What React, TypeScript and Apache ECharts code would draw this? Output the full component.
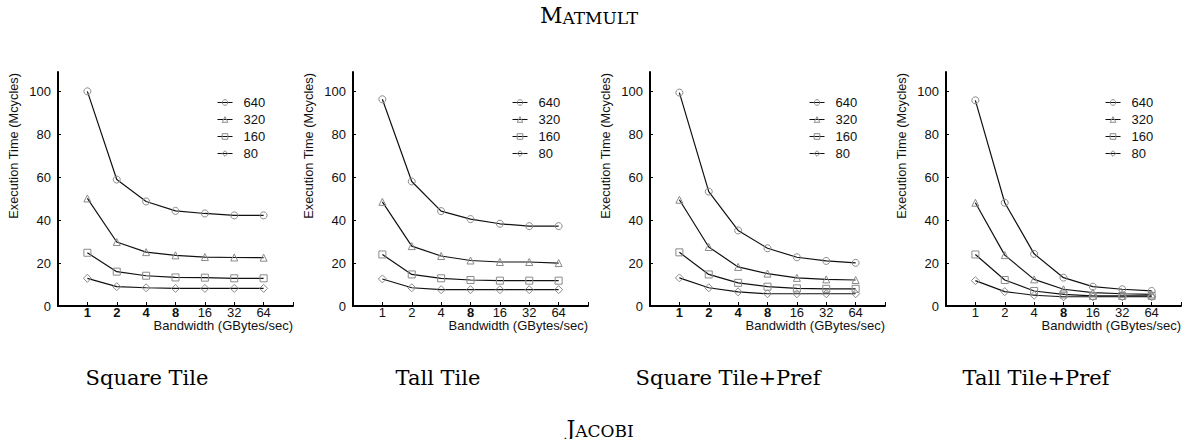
import React, { useEffect, useRef } from 'react';
import * as echarts from 'echarts';

const BANDWIDTH = [1, 2, 4, 8, 16, 32, 64];
const SIZES = ['640', '320', '160', '80'];
const Y_TICKS = [0, 20, 40, 60, 80, 100];
const PANELS = ['Square Tile', 'Tall Tile', 'Square Tile+Pref', 'Tall Tile+Pref'];
const BOLD_X_LABELS = [['1', '2', '4', '8'], ['8'], ['1', '2', '4', '8'], ['8']];

// Square Tile
const sq640 = [100, 58.9, 48.7, 44.3, 43.1, 42.2, 42.2];
const sq320 = [50.1, 29.8, 25.1, 23.6, 22.8, 22.6, 22.5];
const sq160 = [24.8, 16.0, 14.1, 13.3, 13.2, 12.9, 12.9];
const sq80 = [12.9, 9.0, 8.5, 8.2, 8.2, 8.2, 8.2];
// Tall Tile
const tall640 = [96.3, 58.0, 44.2, 40.5, 38.3, 37.2, 37.2];
const tall320 = [48.5, 27.9, 23.3, 21.2, 20.5, 20.5, 20.0];
const tall160 = [24.0, 14.7, 12.9, 12.1, 11.8, 11.8, 11.8];
const tall80 = [12.6, 8.5, 7.6, 7.6, 7.6, 7.6, 7.6];
// Square Tile+Pref
const sqp640 = [99.4, 53.3, 35.2, 26.9, 22.7, 21.0, 20.1];
const sqp320 = [49.5, 27.5, 18.2, 15.1, 13.1, 12.4, 12.1];
const sqp160 = [25.0, 14.7, 10.8, 9.0, 8.2, 8.0, 8.0];
const sqp80 = [13.1, 8.5, 6.6, 5.7, 5.7, 5.7, 5.7];
// Tall Tile+Pref
const tallp640 = [95.8, 48.1, 24.3, 13.2, 9.0, 7.8, 7.0];
const tallp320 = [48.1, 23.7, 12.4, 7.8, 6.2, 5.7, 5.4];
const tallp160 = [24.0, 12.1, 7.0, 5.4, 4.7, 4.7, 4.7];
const tallp80 = [11.8, 6.7, 5.0, 4.3, 4.3, 4.3, 4.3];

const PANEL_DATA = [
  [sq640, sq320, sq160, sq80],
  [tall640, tall320, tall160, tall80],
  [sqp640, sqp320, sqp160, sqp80],
  [tallp640, tallp320, tallp160, tallp80],
];

const SYMBOLS = ['circle', 'triangle', 'rect', 'diamond'];
const SYMBOL_SIZES = [7, 7, 7, 8];
const GRID_LEFT = [58, 353, 650, 946];
const GRID_TOP = 72;
const GRID_W = 235;
const GRID_H = 234;
const SANS = 'Liberation Sans, Arial, sans-serif';
const SERIF = 'DejaVu Serif, serif';
const MARK_GREY = '#8a8a8a';

export default function App() {
  const ref = useRef<HTMLDivElement>(null);
  useEffect(() => {
    document.body.style.margin = '0';
    if (!ref.current) return;
    const chart = echarts.init(ref.current, undefined, { renderer: 'svg' });

    const grid: any[] = [];
    const xAxis: any[] = [];
    const yAxis: any[] = [];
    const legend: any[] = [];
    const series: any[] = [];
    const graphic: any[] = [];

    PANELS.forEach((title, p) => {
      grid.push({
        left: GRID_LEFT[p], top: GRID_TOP, width: GRID_W, height: GRID_H,
        containLabel: false, outerBoundsMode: 'none',
      });
      const bold = BOLD_X_LABELS[p];
      xAxis.push({
        type: 'value', gridIndex: p, min: 0, max: 8,
        axisLine: { show: true, onZero: false, lineStyle: { color: '#000', width: 2 } },
        axisTick: {
          show: true, inside: true, length: 4,
          customValues: [1, 2, 3, 4, 5, 6, 7, 8],
          lineStyle: { color: '#000', width: 1 },
        },
        axisLabel: {
          customValues: [1, 2, 3, 4, 5, 6, 7],
          margin: 0,
          fontSize: 13, fontFamily: SANS, color: '#111', lineHeight: 12,
          formatter: (v: number) => {
            const lab = String(BANDWIDTH[Math.round(v) - 1]);
            return bold.includes(lab) ? `{b|${lab}}` : lab;
          },
          rich: { b: { fontWeight: 'bold', fontSize: 13, fontFamily: SANS, color: '#111', lineHeight: 12 } },
        },
        splitLine: { show: false },
      });
      yAxis.push({
        type: 'value', gridIndex: p, min: 0, max: 109,
        axisLine: { show: true, onZero: false, lineStyle: { color: '#000', width: 2 } },
        axisTick: {
          show: true, inside: true, length: 3,
          customValues: Y_TICKS,
          lineStyle: { color: '#000', width: 1 },
        },
        axisLabel: {
          customValues: Y_TICKS, margin: 7,
          fontSize: 13, fontFamily: SANS, color: '#111',
        },
        splitLine: { show: false },
      });
      legend.push({
        orient: 'vertical', left: GRID_LEFT[p] + 154, top: 91,
        itemWidth: 15, itemHeight: 7, itemGap: 4,
        selectedMode: false,
        data: SIZES,
        itemStyle: { color: 'rgba(255,255,255,0)', borderColor: MARK_GREY, borderWidth: 1 },
        lineStyle: { color: '#111', width: 1 },
        textStyle: { fontSize: 13, fontFamily: SANS, color: '#111', lineHeight: 13, padding: [0, 0, 0, 6] },
      });
      PANEL_DATA[p].forEach((vals, s) => {
        series.push({
          type: 'line', name: SIZES[s], xAxisIndex: p, yAxisIndex: p,
          data: BANDWIDTH.map((b, i) => [Math.log2(b) + 1, vals[i]]),
          symbol: SYMBOLS[s], symbolSize: SYMBOL_SIZES[s], showSymbol: true,
          lineStyle: { color: '#111', width: 1.2 },
          itemStyle: { color: 'rgba(255,255,255,0)', borderColor: MARK_GREY, borderWidth: 1 },
          emphasis: { disabled: true }, silent: true,
        });
      });
      graphic.push({
        type: 'text', x: GRID_LEFT[p] - 45, y: 73, rotation: Math.PI / 2,
        style: {
          text: 'Execution Time (Mcycles)', fontSize: 12.8, fontFamily: SANS, fill: '#111',
          align: 'right', verticalAlign: 'middle',
        },
      });
      graphic.push({
        type: 'text', x: GRID_LEFT[p] + GRID_W, y: 325,
        style: {
          text: 'Bandwidth (GBytes/sec)', fontSize: 13, fontFamily: SANS, fill: '#111',
          lineHeight: 12, align: 'right', verticalAlign: 'middle',
        },
      });
    });

    const SUB_X = [147, 438, 728, 1036];
    PANELS.forEach((t, p) => {
      graphic.push({
        type: 'text', x: SUB_X[p], y: 378,
        style: { text: t, fontSize: 21, fontFamily: SERIF, fill: '#000', align: 'center', verticalAlign: 'middle' },
      });
    });
    graphic.push({
      type: 'text', x: 589, y: 15,
      style: {
        text: '{a|M}{b|ATMULT}', align: 'center', verticalAlign: 'middle', fill: '#000',
        rich: {
          a: { fontSize: 22, fontFamily: SERIF, fill: '#000', verticalAlign: 'bottom' },
          b: { fontSize: 17, fontFamily: SERIF, fill: '#000', verticalAlign: 'bottom' },
        },
      },
    });
    graphic.push({
      type: 'text', x: 600, y: 428,
      style: {
        text: '{a|J}{b|ACOBI}', align: 'center', verticalAlign: 'middle', fill: '#000',
        rich: {
          a: { fontSize: 22, fontFamily: SERIF, fill: '#000', verticalAlign: 'bottom' },
          b: { fontSize: 17, fontFamily: SERIF, fill: '#000', verticalAlign: 'bottom' },
        },
      },
    });

    chart.setOption({
      animation: false,
      backgroundColor: '#fff',
      grid, xAxis, yAxis, legend, series, graphic,
    });
    return () => chart.dispose();
  }, []);
  return <div ref={ref} style={{ width: 1188, height: 439 }} />;
}
